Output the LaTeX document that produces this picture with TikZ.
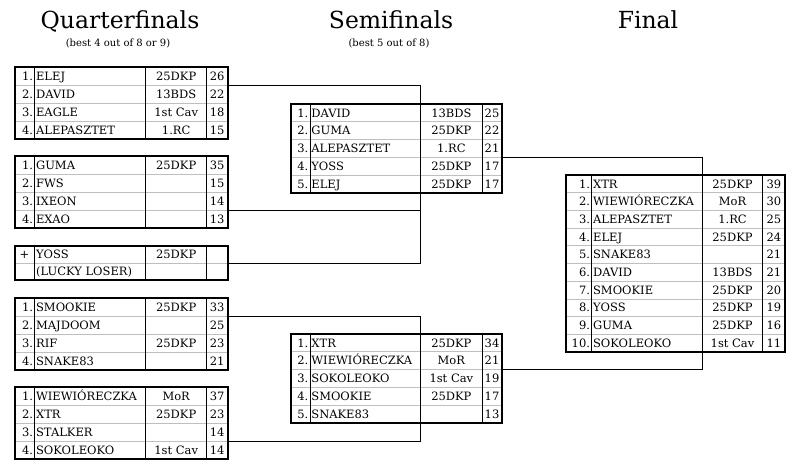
\documentclass[tikz,border=0pt]{standalone}
\usepackage{fontspec}
\setmainfont{DejaVu Serif}
\usetikzlibrary{calc}
\tikzset{
 tblbox/.style={draw, line width=1.8pt, inner sep=0pt, outer sep=0pt, anchor=north west},
 rowline/.style={draw=black!25, line width=0.8pt},
 colline/.style={draw=black, line width=0.8pt},
 cell/.style={inner sep=0pt, font=\fontsize{11.5}{13}\selectfont},
 conn/.style={draw, line width=0.9pt},
 head/.style={font=\fontsize{23.5}{28}\selectfont, anchor=base, inner sep=0pt},
 subhead/.style={font=\fontsize{10}{12}\selectfont, anchor=base, inner sep=0pt},
}
\newcommand\bracketTable[9]{%
 \foreach \cN/\cM/\cT/\cS [count=\ci] in {#9} {
   \pgfmathsetmacro\ya{#7+(\ci-1)*#8}
   \pgfmathsetmacro\yb{#7+\ci*#8}
   \pgfmathsetmacro\yt{#7+(\ci-0.5)*#8+4.2}
   \ifnum\ci>1 \draw[rowline] (#2,\ya) -- (#6,\ya);\fi
   \node[cell, anchor=base east] (#1-n\ci) at (#3-1.5,\yt) {\cN};
   \node[cell, anchor=base west] (#1-m\ci) at (#3+1.2,\yt) {\cM};
   \node[cell, anchor=base] (#1-t\ci) at ({(#4+#5)/2},\yt) {\cT};
   \node[cell, anchor=base] (#1-s\ci) at ({(#5+#6)/2},\yt) {\cS};
   \xdef\tblbottom{\yb}
 }
 \draw[colline] (#3,#7) -- (#3,\tblbottom) (#4,#7) -- (#4,\tblbottom) (#5,#7) -- (#5,\tblbottom);
 \pgfmathsetmacro\tw{#6-#2}
 \pgfmathsetmacro\th{\tblbottom-#7}
 \node[tblbox, minimum width=\tw pt, minimum height=\th pt] (#1) at (#2,#7) {};
}
\begin{document}
\begin{tikzpicture}[x=1pt,y=-1pt]
\fill[white] (0,0) rectangle (800,470);
\useasboundingbox (0,0) rectangle (800,470);

\node[head] (hq) at (120,28.5) {Quarterfinals};
\node[subhead] (sq) at (118,47) {(best 4 out of 8 or 9)};
\node[head] (hs) at (391,28.5) {Semifinals};
\node[subhead] (ss) at (389,47) {(best 5 out of 8)};
\node[head] (hf) at (648,28.5) {Final};

% Quarterfinals
\bracketTable{qf1}{15}{34.7}{145.7}{206.7}{227.7}{67}{18}{1./ELEJ/25DKP/26, 2./DAVID/13BDS/22, 3./EAGLE/1st Cav/18, 4./ALEPASZTET/1.RC/15}
\bracketTable{qf2}{15}{34.7}{145.7}{206.7}{227.7}{156}{18}{1./GUMA/25DKP/35, 2./FWS/{}/15, 3./IXEON/{}/14, 4./EXAO/{}/13}
\bracketTable{qfl}{15}{34.7}{145.7}{206.7}{227.7}{246}{17}{{+\phantom{.}}/YOSS/25DKP/{}, {}/{(LUCKY LOSER)}/{}/{}}
\bracketTable{qf4}{15}{34.7}{145.7}{206.7}{227.7}{298}{18}{1./SMOOKIE/25DKP/33, 2./MAJDOOM/{}/25, 3./RIF/25DKP/23, 4./SNAKE83/{}/21}
\bracketTable{qf5}{15}{34.7}{145.7}{206.7}{227.7}{387}{18}{1./WIEWIÓRECZKA/MoR/37, 2./XTR/25DKP/23, 3./STALKER/{}/14, 4./SOKOLEOKO/1st Cav/14}

% Semifinals
\bracketTable{sf1}{290.7}{310}{420.7}{482}{502}{104}{17.8}{1./DAVID/13BDS/25, 2./GUMA/25DKP/22, 3./ALEPASZTET/1.RC/21, 4./YOSS/25DKP/17, 5./ELEJ/25DKP/17}
\bracketTable{sf2}{290.7}{310}{420.7}{482}{502}{334}{17.8}{1./XTR/25DKP/34, 2./WIEWIÓRECZKA/MoR/21, 3./SOKOLEOKO/1st Cav/19, 4./SMOOKIE/25DKP/17, 5./SNAKE83/{}/13}

% Final
\bracketTable{fin}{566}{591.7}{702.3}{762.7}{785}{175}{17.7}{1./XTR/25DKP/39, 2./WIEWIÓRECZKA/MoR/30, 3./ALEPASZTET/1.RC/25, 4./ELEJ/25DKP/24, 5./SNAKE83/{}/21, 6./DAVID/13BDS/21, 7./SMOOKIE/25DKP/20, 8./YOSS/25DKP/19, 9./GUMA/25DKP/16, 10./SOKOLEOKO/1st Cav/11}

% Connectors
\coordinate (ja) at (420.7,85.5);
\coordinate (jb) at (420.7,210);
\coordinate (jc) at (420.7,263);
\coordinate (jd) at (420.7,316);
\coordinate (je) at (420.7,441);
\coordinate (jf) at (702.3,157.4);
\coordinate (jg) at (702.3,369.6);
\draw[conn] (qf1.east |- ja) -- (ja) -- (ja |- sf1.north);
\draw[conn] (qf2.east |- jb) -- (jb);
\draw[conn] (qfl.east |- jc) -- (jc) -- (jc |- sf1.south);
\draw[conn] (qf4.east |- jd) -- (jd) -- (jd |- sf2.north);
\draw[conn] (qf5.east |- je) -- (je) -- (je |- sf2.south);
\draw[conn] (sf1.east |- jf) -- (jf) -- (jf |- fin.north);
\draw[conn] (sf2.east |- jg) -- (jg) -- (jg |- fin.south);
\end{tikzpicture}
\end{document}
